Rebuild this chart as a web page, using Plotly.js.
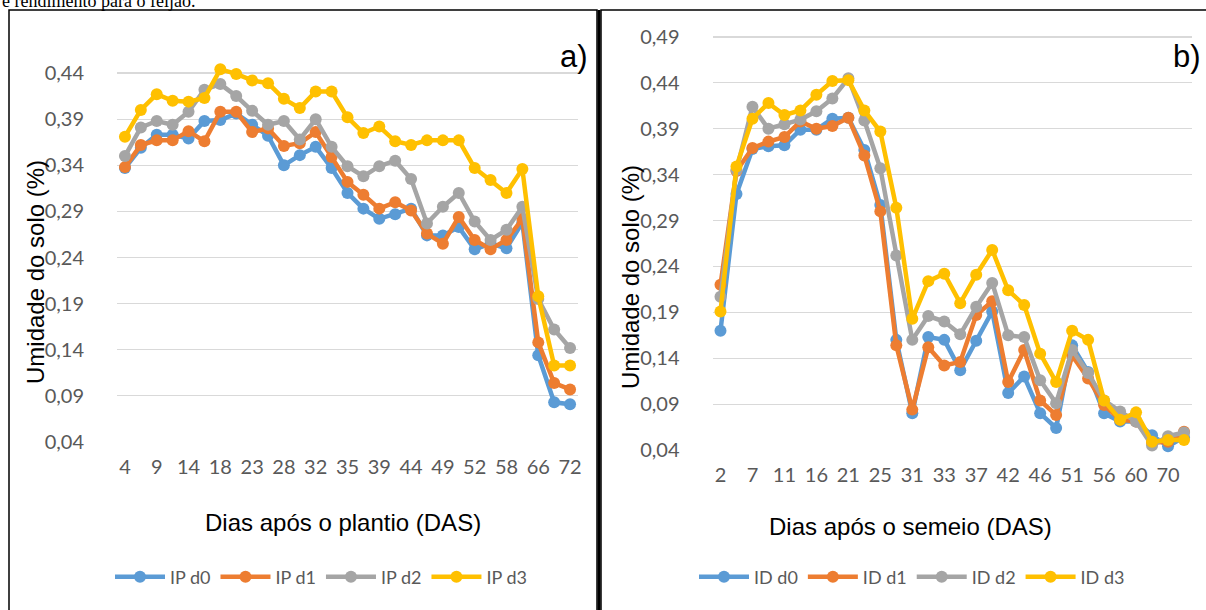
<!DOCTYPE html>
<html>
<head>
<meta charset="utf-8">
<script src="https://cdn.plot.ly/plotly-3.0.1.min.js"></script>
<style>html,body{margin:0;padding:0;background:#fff;}#chart{width:1206px;height:610px;}</style>
</head>
<body>
<div id="chart"></div>
<script>
// ---- Data ----
const daysA = ["4","7","9","11","14","16","18","21","23","25","28","31","32","33","35","37","39","42","44","46","49","51","52","56","58","60","66","70","72"];
const ticksA = ["4","9","14","18","23","28","32","35","39","44","49","52","58","66","72"];
const ipD0 = [0.337,0.359,0.373,0.373,0.369,0.388,0.389,0.396,0.384,0.372,0.340,0.351,0.360,0.337,0.310,0.293,0.282,0.287,0.293,0.264,0.264,0.273,0.249,0.255,0.250,0.278,0.134,0.083,0.081];
const ipD1 = [0.338,0.362,0.367,0.367,0.377,0.366,0.398,0.398,0.376,0.380,0.361,0.364,0.376,0.349,0.322,0.308,0.293,0.300,0.291,0.266,0.255,0.284,0.259,0.249,0.259,0.282,0.148,0.104,0.097];
const ipD2 = [0.350,0.381,0.388,0.384,0.398,0.422,0.428,0.415,0.399,0.384,0.388,0.368,0.390,0.360,0.339,0.328,0.339,0.345,0.325,0.277,0.295,0.310,0.279,0.259,0.270,0.295,0.195,0.162,0.142];
const ipD3 = [0.371,0.400,0.417,0.410,0.409,0.413,0.444,0.439,0.432,0.429,0.412,0.402,0.420,0.420,0.392,0.375,0.382,0.366,0.362,0.367,0.367,0.367,0.337,0.324,0.310,0.336,0.198,0.123,0.123];

const daysB = ["2","4","7","9","11","14","16","18","21","23","25","28","31","32","33","35","37","39","42","44","46","49","51","52","56","58","60","66","70","72"];
const ticksB = ["2","7","11","16","21","25","31","33","37","42","46","51","56","60","70"];
const idD0 = [0.170,0.319,0.368,0.371,0.372,0.389,0.389,0.401,0.402,0.367,0.307,0.160,0.080,0.163,0.160,0.127,0.159,0.191,0.102,0.120,0.080,0.064,0.154,0.125,0.080,0.071,0.071,0.056,0.044,0.054];
const idD1 = [0.220,0.344,0.369,0.376,0.381,0.398,0.390,0.393,0.402,0.361,0.300,0.154,0.084,0.152,0.132,0.136,0.187,0.202,0.114,0.149,0.094,0.078,0.143,0.118,0.089,0.073,0.071,0.048,0.049,0.060];
const idD2 = [0.207,0.345,0.414,0.390,0.395,0.400,0.409,0.423,0.445,0.399,0.347,0.252,0.160,0.186,0.180,0.166,0.196,0.222,0.165,0.163,0.116,0.091,0.149,0.124,0.094,0.082,0.071,0.045,0.055,0.059];
const idD3 = [0.191,0.349,0.401,0.418,0.405,0.410,0.427,0.442,0.443,0.410,0.387,0.304,0.183,0.224,0.232,0.200,0.231,0.258,0.214,0.198,0.145,0.114,0.170,0.160,0.094,0.073,0.081,0.049,0.051,0.051];

const namesA = ["IP d0","IP d1","IP d2","IP d3"];
const namesB = ["ID d0","ID d1","ID d2","ID d3"];
const colors = ["#5B9BD5","#ED7D31","#A5A5A5","#FFC000"];

// ---- Build ----
const W = 1206, H = 610;
const px = v => v / W;
const py = v => (H - v) / H;

function mk(x, y, name, color, axis, legend) {
  return {
    x: x, y: y, name: name, type: 'scatter', mode: 'lines+markers',
    xaxis: axis === 1 ? 'x' : 'x2', yaxis: axis === 1 ? 'y' : 'y2',
    legend: legend,
    line: {color: color, width: 4.5},
    marker: {color: color, size: 12},
    cliponaxis: false
  };
}
const seriesA = [ipD0, ipD1, ipD2, ipD3];
const seriesB = [idD0, idD1, idD2, idD3];
const data = [];
seriesA.forEach((s, i) => data.push(mk(daysA, s, namesA[i], colors[i], 1, 'legend')));
seriesB.forEach((s, i) => data.push(mk(daysB, s, namesB[i], colors[i], 2, 'legend2')));

const tickFont = {family: 'Lato, "Open Sans", sans-serif', size: 20, color: '#595959'};
const yTickFmt = v => v.toFixed(2).replace('.', ',');

function yaxis(range, domain, vals) {
  return {
    range: range, domain: domain, tickmode: 'array', tickvals: vals,
    ticktext: vals.map(yTickFmt), showgrid: true, gridcolor: '#D9D9D9', gridwidth: 1.2,
    zeroline: false, showline: false, ticks: '', tickfont: tickFont, ticklabelstandoff: 32,
    fixedrange: true
  };
}
const yvA = [0.04,0.09,0.14,0.19,0.24,0.29,0.34,0.39,0.44];
const yvB = [0.04,0.09,0.14,0.19,0.24,0.29,0.34,0.39,0.44,0.49];

const legFont = {family: 'Lato, sans-serif', size: 18, color: '#595959'};

const layout = {
  width: W, height: H, margin: {l: 0, r: 0, t: 0, b: 0},
  paper_bgcolor: '#fff', plot_bgcolor: 'rgba(0,0,0,0)',
  showlegend: true,
  xaxis: {type: 'category', domain: [px(117), px(578)], range: [-0.5, daysA.length - 0.5],
    tickmode: 'array', tickvals: ticksA, ticktext: ticksA, showgrid: false, zeroline: false,
    showline: false, ticks: '', tickfont: tickFont, ticklabelstandoff: 11, anchor: 'y'},
  yaxis: Object.assign(yaxis([0.0395, 0.455], [py(442.46), py(59.2)], yvA), {anchor: 'x'}),
  xaxis2: {type: 'category', domain: [px(712.5), px(1192)], range: [-0.5, daysB.length - 0.5],
    tickmode: 'array', tickvals: ticksB, ticktext: ticksB, showgrid: false, zeroline: false,
    showline: false, ticks: '', tickfont: tickFont, ticklabelstandoff: 11, anchor: 'y2'},
  yaxis2: Object.assign(yaxis([0.0395, 0.4925], [py(450.46), py(34.7)], yvB), {anchor: 'x2'}),
  legend: {orientation: 'h', x: px(321), xanchor: 'center', y: py(577), yanchor: 'middle',
    font: legFont, itemwidth: 50, bgcolor: 'rgba(0,0,0,0)'},
  legend2: {orientation: 'h', x: px(912), xanchor: 'center', y: py(577), yanchor: 'middle',
    font: legFont, itemwidth: 50, bgcolor: 'rgba(0,0,0,0)'},
  shapes: [
    {type: 'rect', xref: 'paper', yref: 'paper', x0: px(9), x1: px(597), y0: py(615), y1: py(10),
      line: {color: '#000', width: 1.5}, fillcolor: 'rgba(0,0,0,0)', layer: 'below'},
    {type: 'rect', xref: 'paper', yref: 'paper', x0: px(601), x1: px(1215), y0: py(615), y1: py(10),
      line: {color: '#000', width: 1.5}, fillcolor: 'rgba(0,0,0,0)', layer: 'below'},
    {type: 'line', xref: 'paper', yref: 'paper', x0: px(599), x1: px(599), y0: py(615), y1: py(10),
      line: {color: '#000', width: 3}}
  ],
  annotations: [
    {text: 'e rendimento para o feijão.', xref: 'paper', yref: 'paper', x: 0, y: py(1), xanchor: 'left', yanchor: 'middle',
      showarrow: false, font: {family: '"Liberation Serif", "Times New Roman", serif', size: 18, color: '#000'}},
    {text: 'a)', xref: 'paper', yref: 'paper', x: px(574), y: py(57), xanchor: 'center', yanchor: 'middle',
      showarrow: false, font: {family: '"Liberation Sans", Arial, sans-serif', size: 31, color: '#000'}},
    {text: 'b)', xref: 'paper', yref: 'paper', x: px(1187), y: py(57), xanchor: 'center', yanchor: 'middle',
      showarrow: false, font: {family: '"Liberation Sans", Arial, sans-serif', size: 31, color: '#000'}},
    {text: 'Dias após o plantio (DAS)', xref: 'paper', yref: 'paper', x: px(343), y: py(522), xanchor: 'center', yanchor: 'middle',
      showarrow: false, font: {family: '"Liberation Sans", Arial, sans-serif', size: 24, color: '#000'}},
    {text: 'Dias após o semeio (DAS)', xref: 'paper', yref: 'paper', x: px(911), y: py(526), xanchor: 'center', yanchor: 'middle',
      showarrow: false, font: {family: '"Liberation Sans", Arial, sans-serif', size: 24, color: '#000'}},
    {text: 'Umidade do solo (%)', xref: 'paper', yref: 'paper', x: px(35), y: py(272), xanchor: 'center', yanchor: 'middle',
      textangle: -90, showarrow: false, font: {family: '"Liberation Sans", Arial, sans-serif', size: 24, color: '#000'}},
    {text: 'Umidade do solo (%)', xref: 'paper', yref: 'paper', x: px(630), y: py(277), xanchor: 'center', yanchor: 'middle',
      textangle: -90, showarrow: false, font: {family: '"Liberation Sans", Arial, sans-serif', size: 24, color: '#000'}}
  ]
};

Plotly.newPlot('chart', data, layout, {staticPlot: true, displayModeBar: false});
</script>
</body>
</html>
